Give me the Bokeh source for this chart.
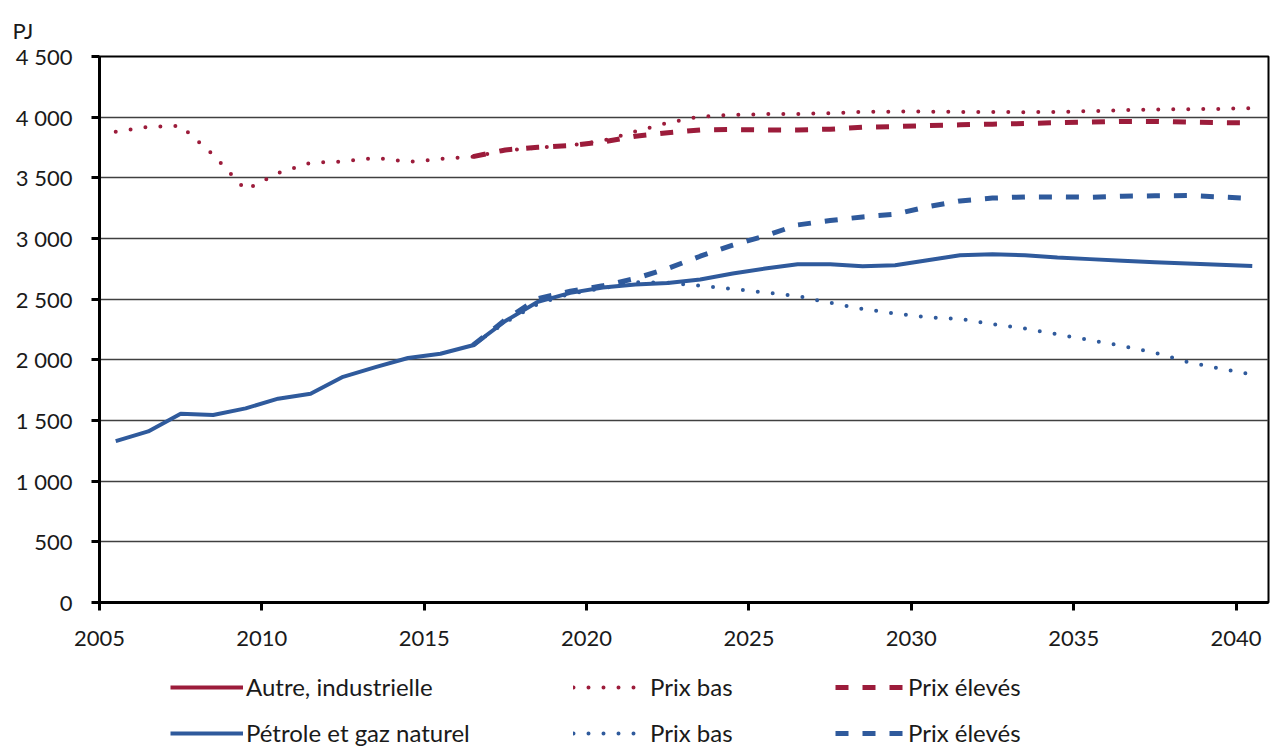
from bokeh.plotting import figure
from bokeh.models import Range1d, FixedTicker, Legend, LegendItem
from bokeh.layouts import column
from bokeh.embed import file_html
from bokeh.resources import INLINE

# ---- data ----
years = list(range(2005, 2041))
proj_years = list(range(2016, 2041))

# Autre, industrielle
red_ref = []  # reference line not visible in the source picture
red_ref_years = []
red_low = [3880, 3920, 3928, 3690, 3400, 3540, 3625, 3635, 3665, 3632, 3655, 3675,
           3725, 3748, 3768, 3805, 3882, 3954, 4005, 4019, 4025, 4027, 4033, 4043,
           4046, 4046, 4043, 4043, 4041, 4043, 4049, 4057, 4063, 4066, 4068, 4074]
red_high = [3675, 3730, 3752, 3766, 3795, 3843, 3872, 3895, 3898, 3895, 3895, 3901,
            3917, 3923, 3931, 3937, 3942, 3948, 3955, 3959, 3965, 3965, 3959, 3955, 3953]

# Pétrole et gaz naturel
blue_ref = [1330, 1410, 1555, 1545, 1600, 1680, 1720, 1860, 1940, 2015, 2050, 2120,
            2320, 2478, 2552, 2596, 2621, 2634, 2662, 2711, 2753, 2788, 2788, 2772,
            2780, 2821, 2862, 2870, 2862, 2843, 2830, 2816, 2805, 2794, 2783, 2774]
blue_low = [2120, 2310, 2460, 2545, 2590, 2640, 2635, 2610, 2585, 2555, 2525, 2470,
            2420, 2382, 2351, 2337, 2294, 2258, 2211, 2162, 2115, 2058, 1983, 1929, 1879]
blue_high = [2120, 2330, 2505, 2565, 2610, 2670, 2753, 2854, 2945, 3022, 3112, 3148,
             3178, 3200, 3262, 3310, 3333, 3343, 3343, 3340, 3348, 3352, 3354, 3343, 3330]

x_ticks = [2005, 2010, 2015, 2020, 2025, 2030, 2035, 2040]
x_tick_labels = ["2005", "2010", "2015", "2020", "2025", "2030", "2035", "2040"]
y_ticks = [0, 500, 1000, 1500, 2000, 2500, 3000, 3500, 4000, 4500]
y_tick_labels = ["0", "500", "1 000", "1 500", "2 000", "2 500", "3 000", "3 500", "4 000", "4 500"]

label_ref_red = "Autre, industrielle"
label_ref_blue = "Pétrole et gaz naturel"
label_low = "Prix bas"
label_high = "Prix élevés"
unit_label = "PJ"

RED = "#9C1C3B"
BLUE = "#2F5A9C"
FONT = "Lato"
FS = "22px"
LFS = "24px"
TXT = "#1a1a1a"
W = 1275

RED_STYLES = dict(ref=dict(line_color=RED, line_width=4),
                  low=dict(line_color=RED, line_width=4, line_dash="0 15", line_cap="round"),
                  high=dict(line_color=RED, line_width=5, line_dash="13 14", line_cap="butt"))
BLUE_STYLES = dict(ref=dict(line_color=BLUE, line_width=4, line_join="round"),
                   low=dict(line_color=BLUE, line_width=4, line_dash="0 15", line_cap="round"),
                   high=dict(line_color=BLUE, line_width=5, line_dash="13 14", line_cap="butt"))


def centers(yrs):
    # each year is a category slot; points sit at the slot centre
    return [y + 0.5 for y in yrs]


# ---- chart ----
p = figure(width=W, height=660,
           x_range=Range1d(2005, 2041), y_range=Range1d(0, 4500),
           output_backend="svg", toolbar_location=None,
           min_border_left=99, min_border_right=7, min_border_top=56, min_border_bottom=58)
p.background_fill_color = "white"
p.border_fill_color = "white"
p.outline_line_color = "black"
p.outline_line_width = 2

p.title.text = unit_label
p.title.align = "left"
p.title.vertical_align = "top"
p.title.offset = -87
p.title.standoff = 21
p.title.text_font = FONT
p.title.text_font_size = FS
p.title.text_font_style = "normal"
p.title.text_color = TXT

p.xgrid.visible = False
p.ygrid.grid_line_color = "#404040"
p.ygrid.grid_line_width = 1.5

for ax in (p.xaxis[0], p.yaxis[0]):
    ax.axis_line_color = "black"
    ax.axis_line_width = 3
    ax.major_tick_line_color = "black"
    ax.major_tick_line_width = 3
    ax.major_tick_out = 8
    ax.major_tick_in = 0
    ax.minor_tick_line_color = None
    ax.major_label_text_font = FONT
    ax.major_label_text_font_size = FS
    ax.major_label_text_color = TXT

p.xaxis.ticker = FixedTicker(ticks=x_ticks)
p.xaxis.major_label_overrides = dict(zip(x_ticks, x_tick_labels))
p.xaxis.major_label_standoff = 20
p.yaxis.ticker = FixedTicker(ticks=y_ticks)
p.yaxis.major_label_overrides = dict(zip(y_ticks, y_tick_labels))
p.yaxis.major_label_standoff = 19

p.line(centers(red_ref_years), red_ref, **RED_STYLES["ref"])
p.line(centers(proj_years), red_high, **RED_STYLES["high"])
p.line(centers(years), red_low, **RED_STYLES["low"])
p.line(centers(proj_years), blue_high, **BLUE_STYLES["high"])
p.line(centers(proj_years), blue_low, **BLUE_STYLES["low"])
p.line(centers(years), blue_ref, **BLUE_STYLES["ref"])

# ---- legend strip (its frame is aligned with the chart frame by the column layout) ----
leg = figure(width=W, height=88, x_range=Range1d(0, 1), y_range=Range1d(0, 1),
             output_backend="svg", toolbar_location=None,
             x_axis_location=None, y_axis_location=None,
             min_border_left=99, min_border_right=7, min_border_top=0, min_border_bottom=0)
leg.grid.visible = False
leg.outline_line_color = None
leg.background_fill_color = "white"
leg.border_fill_color = "white"

# legend handles: same series, styled as in the chart, lying outside this strip's ranges
handles = [[(label_ref_red, RED_STYLES["ref"], years, red_low),
            (label_low, RED_STYLES["low"], years, red_low),
            (label_high, RED_STYLES["high"], proj_years, red_high)],
           [(label_ref_blue, BLUE_STYLES["ref"], years, blue_ref),
            (label_low, BLUE_STYLES["low"], proj_years, blue_low),
            (label_high, BLUE_STYLES["high"], proj_years, blue_high)]]
cols = [(71, 73, 3), (474, 70, 7), (736, 68, 5)]
rows = [47, 1]
for ri, row in enumerate(handles):
    for ci, (lab, style, xs, ys) in enumerate(row):
        vx, gw, so = cols[ci]
        rend = leg.line(centers(xs), ys, **style)
        lg = Legend(items=[LegendItem(label=lab, renderers=[rend])],
                    location=(vx, rows[ri]), orientation="horizontal",
                    glyph_width=gw, glyph_height=24, label_height=24, label_standoff=so,
                    padding=0, margin=0, spacing=0,
                    border_line_color=None, background_fill_alpha=0,
                    label_text_font=FONT, label_text_font_size=LFS, label_text_color=TXT)
        leg.add_layout(lg)

layout = column(p, leg, spacing=0)
open("out.html", "w").write(file_html(layout, INLINE))
